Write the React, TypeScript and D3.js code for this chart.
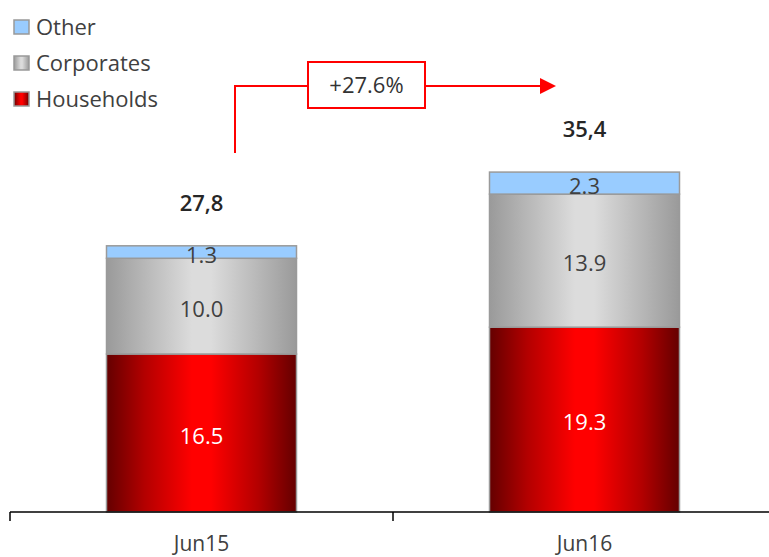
import React from "react";
import * as d3 from "d3";

const categories = ["Jun15", "Jun16"];
const households = [16.5, 19.3];
const corporates = [10.0, 13.9];
const other = [1.3, 2.3];
const totalLabels = ["27,8", "35,4"];
const seriesNames = ["Other", "Corporates", "Households"];
const growthLabel = "+27.6%";

const W = 769;
const H = 557;
const FONT = "'Open Sans', 'Noto Sans', sans-serif";
const TXT = "#404040";

export default function App() {
  const x = d3.scaleBand<string>().domain(categories).range([10, 776]).paddingInner(0).paddingOuter(0);
  const y = d3.scaleLinear().domain([0, 40]).range([512, 512 - 383]);
  const bw = 190;
  const series = [
    { name: "Households", values: households, fill: "url(#gRed)", text: "#ffffff" },
    { name: "Corporates", values: corporates, fill: "url(#gGray)", text: TXT },
    { name: "Other", values: other, fill: "#99ccff", text: TXT },
  ];
  const stacks = categories.map((c, i) => {
    let acc = 0;
    return series.map((s) => {
      const y0 = acc;
      acc += s.values[i];
      return { ...s, c, v: s.values[i], y0, y1: acc };
    });
  });
  const tops = categories.map((c, i) => households[i] + corporates[i] + other[i]);
  const legendFill: Record<string, string> = { Other: "#99ccff", Corporates: "url(#gGray)", Households: "url(#gRed)" };

  const arrowY = 86;
  const xStart = 235;
  const boxL = 308, boxR = 425, boxT = 62, boxB = 108;
  const arrowTip = 556;

  return (
    <svg width={W} height={H} style={{ position: "absolute", left: 0, top: 0 }} fontFamily={FONT}>
      <defs>
        <linearGradient id="gRed" x1="0" x2="1" y1="0" y2="0">
          <stop offset="0" stopColor="#640000" />
          <stop offset="0.2" stopColor="#b30000" />
          <stop offset="0.45" stopColor="#ff0000" />
          <stop offset="0.55" stopColor="#ff0000" />
          <stop offset="0.8" stopColor="#b30000" />
          <stop offset="1" stopColor="#640000" />
        </linearGradient>
        <linearGradient id="gGray" x1="0" x2="1" y1="0" y2="0">
          <stop offset="0" stopColor="#9a9a9a" />
          <stop offset="0.45" stopColor="#dcdcdc" />
          <stop offset="0.55" stopColor="#dcdcdc" />
          <stop offset="1" stopColor="#9a9a9a" />
        </linearGradient>
      </defs>
      <rect width={W} height={H} fill="#fff" />

      {/* legend */}
      {seriesNames.map((n, i) => (
        <g key={n} transform={`translate(0, ${27 + i * 36})`}>
          <rect x={14} y={-7} width={15} height={14} fill={legendFill[n]} stroke="#999" strokeWidth={1.5} />
          <text x={36} y={0} dy="0.35em" fontSize={22} fill={TXT}>{n}</text>
        </g>
      ))}

      {/* bars */}
      {stacks.map((st, i) => {
        const cx = (x(categories[i]) as number) + x.bandwidth() / 2;
        return (
          <g key={categories[i]}>
            {st.map((s) => (
              <rect key={s.name} x={cx - bw / 2} y={y(s.y1)} width={bw} height={y(s.y0) - y(s.y1)}
                fill={s.fill} stroke="#9a9a9a" strokeWidth={1.5} />
            ))}
            {st.map((s) => (
              <text key={s.name + "l"} x={cx} y={(y(s.y0) + y(s.y1)) / 2 + 3} dy="0.35em" textAnchor="middle"
                fontSize={22} fill={s.text}>{s.v.toFixed(1)}</text>
            ))}
            <text x={cx} y={y(tops[i]) - 43} dy="0.35em" textAnchor="middle" fontSize={22} fontWeight={600} fill="#262626">
              {totalLabels[i]}
            </text>
          </g>
        );
      })}

      {/* axis */}
      <line x1={10} x2={769} y1={512} y2={512} stroke="#000" strokeWidth={1.5} />
      {[10, 393].map((t) => (
        <line key={t} x1={t} x2={t} y1={512} y2={521} stroke="#000" strokeWidth={1.5} />
      ))}
      {categories.map((c) => (
        <text key={c} x={(x(c) as number) + x.bandwidth() / 2} y={551} textAnchor="middle" fontSize={21} fill={TXT}>{c}</text>
      ))}

      {/* growth arrow */}
      <polyline points={`${xStart},153 ${xStart},${arrowY} ${boxL},${arrowY}`} fill="none" stroke="#ff0000" strokeWidth={2} />
      <line x1={boxR} x2={arrowTip - 14} y1={arrowY} y2={arrowY} stroke="#ff0000" strokeWidth={2} />
      <polygon points={`${arrowTip - 16},${arrowY - 8} ${arrowTip},${arrowY} ${arrowTip - 16},${arrowY + 8}`} fill="#ff0000" />
      <rect x={boxL} y={boxT} width={boxR - boxL} height={boxB - boxT} fill="#fff" stroke="#ff0000" strokeWidth={2} />
      <text x={(boxL + boxR) / 2} y={(boxT + boxB) / 2} dy="0.35em" textAnchor="middle" fontSize={22} fill="#333">{growthLabel}</text>
    </svg>
  );
}
